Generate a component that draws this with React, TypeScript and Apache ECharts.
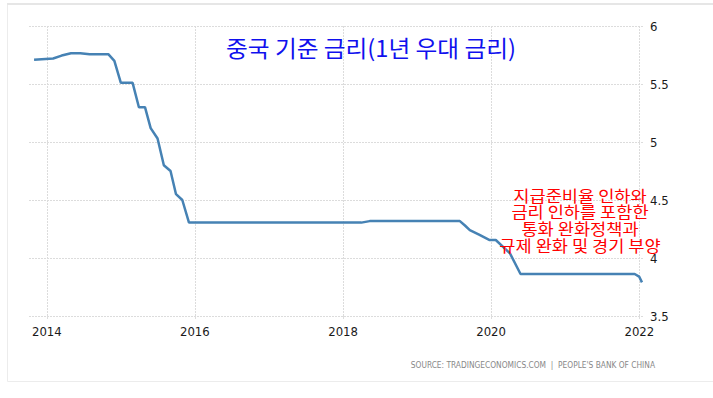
import React, { useEffect, useRef } from "react";
import * as echarts from "echarts";

const dates: string[] = [
  "2013-10-30", "2014-02-01", "2014-03-15", "2014-04-30", "2014-06-15", "2014-07-31",
  "2014-10-31", "2014-11-30", "2015-01-01", "2015-02-28", "2015-03-31", "2015-04-30",
  "2015-05-28", "2015-07-01", "2015-08-01", "2015-09-03", "2015-09-30", "2015-10-31",
  "2015-12-03", "2018-04-01", "2018-05-12", "2019-07-31", "2019-08-25", "2019-09-18",
  "2019-11-05", "2019-12-25", "2020-01-24", "2020-04-03", "2020-05-25", "2021-12-09",
  "2021-12-31", "2022-01-14",
];
const rates: number[] = [
  5.71, 5.72, 5.745, 5.765, 5.765, 5.757,
  5.757, 5.70, 5.51, 5.51, 5.30, 5.30,
  5.12, 5.03, 4.80, 4.75, 4.55, 4.50,
  4.305, 4.305, 4.318, 4.318, 4.28, 4.24,
  4.20, 4.155, 4.155, 4.04, 3.862, 3.862,
  3.84, 3.79,
];
const yearTicks: string[] = ["2014-01-01", "2016-01-01", "2018-01-01", "2020-01-01", "2022-01-01"];
const xStart = "2013-10-05";
const xEnd = "2022-01-24";
const titleText = "중국 기준 금리(1년 우대 금리)";
const noteLines: string[] = ["지급준비율 인하와", "금리 인하를 포함한", "통화 완화정책과", "규제 완화 및 경기 부양"];
const sourceText = "SOURCE: TRADINGECONOMICS.COM  |  PEOPLE'S BANK OF CHINA";

const narrow = "'Liberation Sans Narrow', 'DejaVu Sans Condensed', sans-serif";
const kr = "'Noto Sans CJK KR', sans-serif";

const ts = (d: string) => Date.parse(d + "T00:00:00Z");

export default function App() {
  const ref = useRef<HTMLDivElement>(null);
  useEffect(() => {
    if (!ref.current) return;
    const chart = echarts.init(ref.current, null, { renderer: "svg" });
    const tickVals = yearTicks.map(ts);
    const noteEls = noteLines.map((line, i) => ({
      type: "text",
      x: 580,
      y: 195 + i * 16.7,
      scaleX: 1.1,
      style: { text: line, fill: "#ff0000", font: `16px ${kr}`, align: "center", verticalAlign: "middle" },
      z: 20,
    }));
    chart.setOption({
      animation: false,
      backgroundColor: "#ffffff",
      grid: { left: 29, right: 69, top: 26, bottom: 82, containLabel: false },
      xAxis: {
        type: "value",
        min: ts(xStart),
        max: ts(xEnd),
        axisLine: { show: false },
        axisTick: { show: true, customValues: tickVals, length: 3, lineStyle: { color: "#dddddd" } },
        axisLabel: {
          customValues: tickVals,
          formatter: (v: number) => String(new Date(v).getUTCFullYear()),
          color: "#1a1a1a",
          fontFamily: narrow,
          fontSize: 13,
          margin: 9,
        },
        splitLine: { show: false },
      },
      yAxis: {
        type: "value",
        position: "right",
        min: 3.5,
        max: 6,
        interval: 0.5,
        axisLine: { show: false },
        axisTick: { show: false },
        axisLabel: { color: "#1a1a1a", fontFamily: narrow, fontSize: 13, margin: 6 },
        splitLine: { show: true, lineStyle: { color: "#dcdcdc", type: [2, 1], width: 1 } },
      },
      series: [
        {
          type: "line",
          data: dates.map((d, i) => [ts(d), rates[i]]),
          showSymbol: false,
          symbol: "none",
          lineStyle: { color: "#4682b4", width: 2.5 },
          z: 5,
          markLine: {
            silent: true,
            symbol: "none",
            label: { show: false },
            lineStyle: { color: "#dcdcdc", type: [2, 1], width: 1 },
            z: 1,
            data: tickVals.map((v) => ({ xAxis: v })),
          },
        },
      ],
      graphic: [
        {
          type: "rect",
          z: -10,
          shape: { x: 7.5, y: 4.5, width: 720, height: 377 },
          style: { fill: "#ffffff", stroke: "#ececec", lineWidth: 1 },
        },
        {
          type: "rect",
          z: -9,
          shape: { x: 7, y: 3, width: 720, height: 2 },
          style: { fill: "#e6e6e6" },
        },
        {
          type: "text",
          x: 371,
          y: 47,
          scaleX: 1.03,
          style: { text: titleText, fill: "#1010ee", font: `23px ${kr}`, align: "center", verticalAlign: "middle" },
          z: 20,
        },
        ...noteEls,
        {
          type: "text",
          x: 655,
          y: 365,
          style: { text: sourceText, fill: "#888888", font: `8.3px ${narrow}`, align: "right", verticalAlign: "middle" },
          z: 20,
        },
      ],
    });
    return () => chart.dispose();
  }, []);
  return <div ref={ref} style={{ position: "absolute", left: 0, top: 0, width: 713, height: 398 }} />;
}
